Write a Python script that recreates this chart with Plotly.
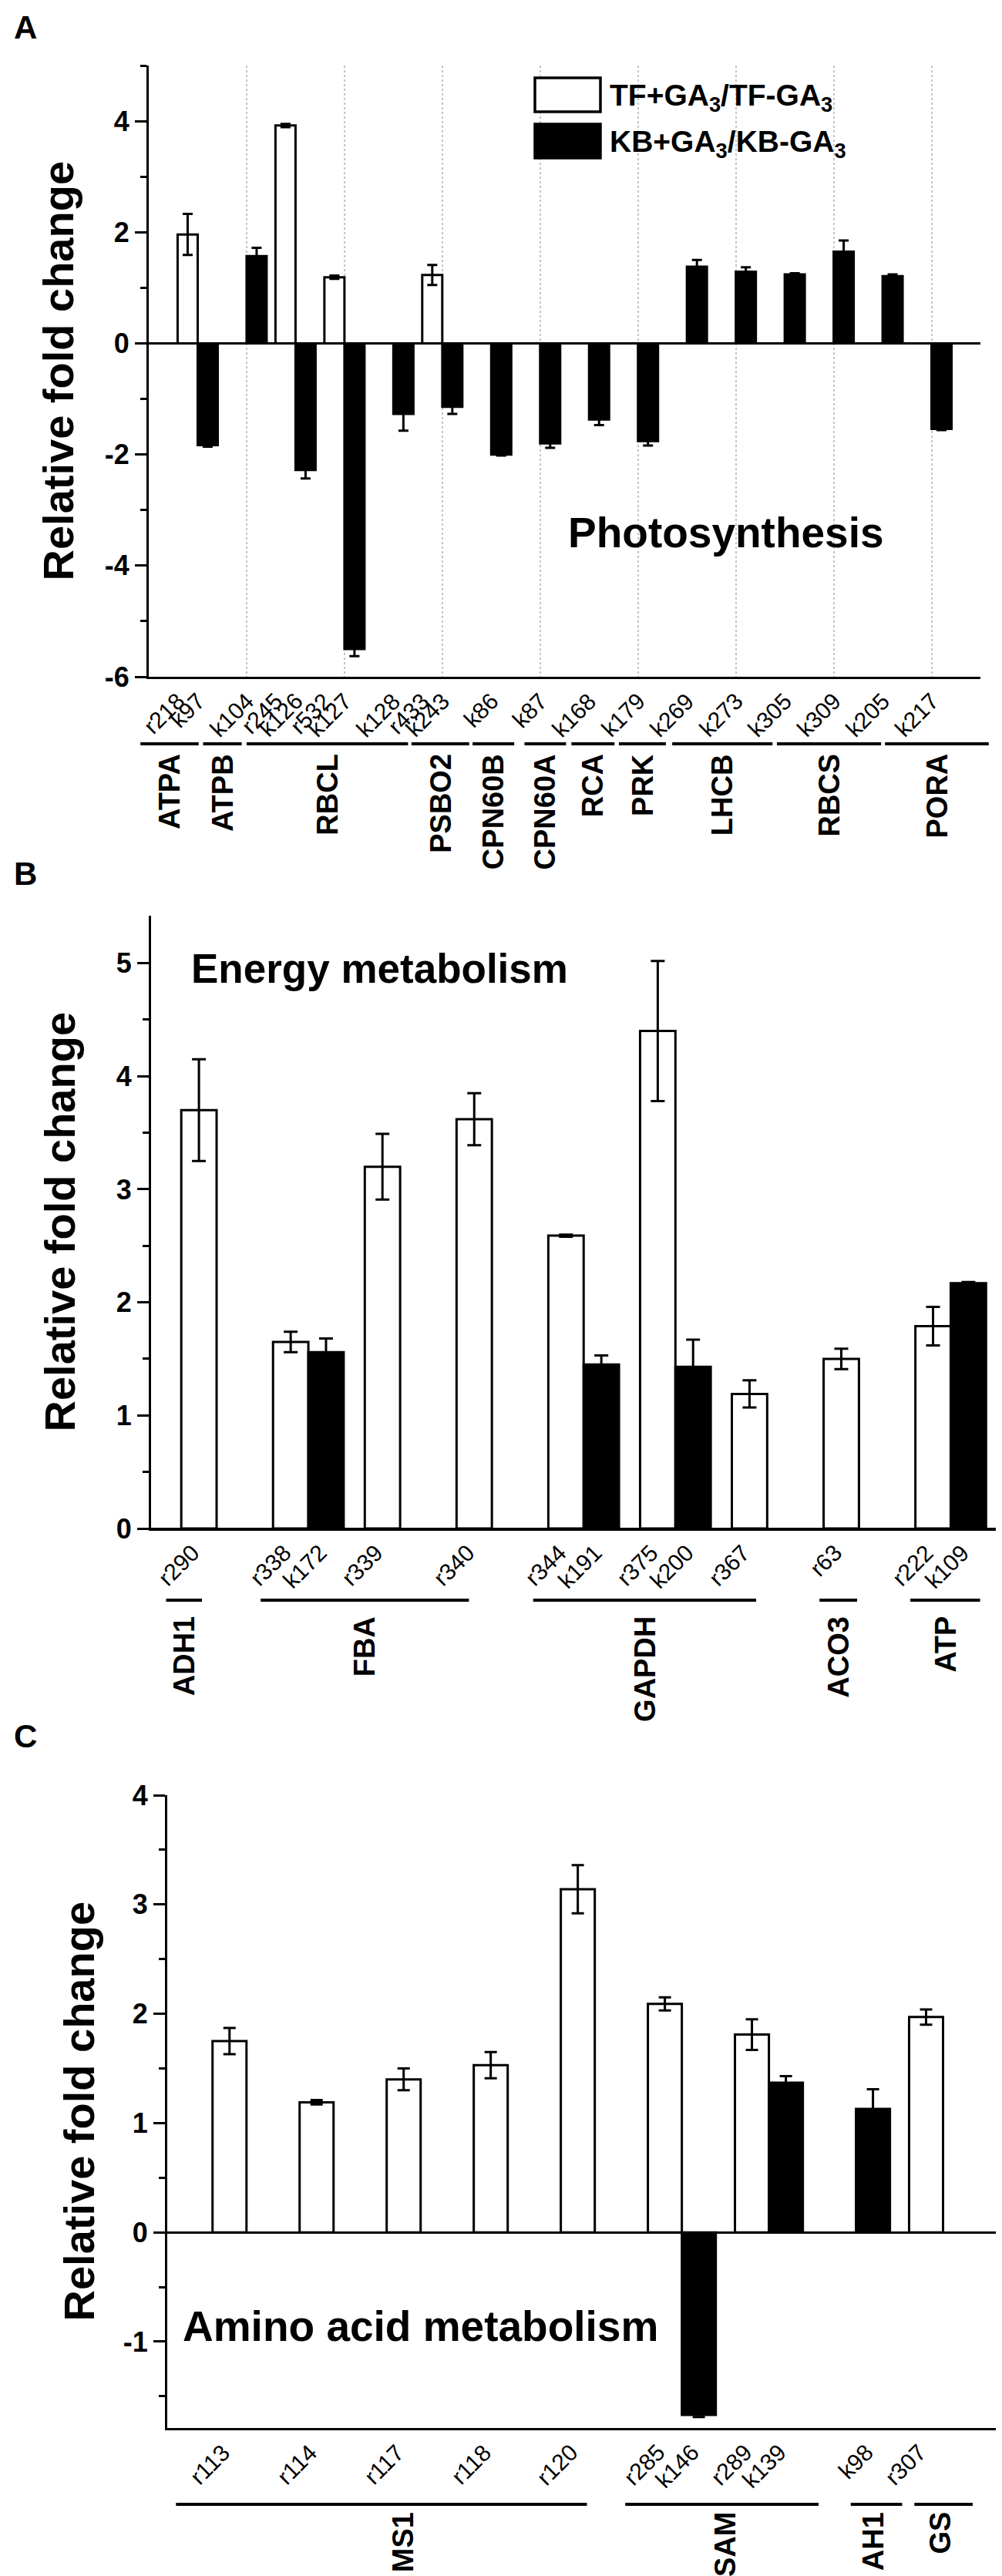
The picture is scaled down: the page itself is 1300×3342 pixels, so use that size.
import plotly.graph_objects as go

W, H = 1300, 3342
FONT = "Arial, Liberation Sans, sans-serif"

# ---------------- data ----------------
# Panel A - photosynthesis (slot = x position of the bar pair)
a_tf_labels = ["r218", "r245", "r532", "r433"]
a_tf_slot = [0, 2, 3, 5]
a_tf_val = [1.96, 3.92, 1.19, 1.23]
a_tf_err = [0.37, 0.03, 0.03, 0.18]

a_kb_labels = ["k97", "k104", "k126", "k127", "k128", "k243", "k86", "k87", "k168",
               "k179", "k269", "k273", "k305", "k309", "k205", "k217"]
a_kb_slot = list(range(16))
a_kb_val = [-1.83, 1.57, -2.28, -5.50, -1.27, -1.14, -2.00, -1.80, -1.37,
            -1.76, 1.38, 1.29, 1.24, 1.65, 1.21, -1.54]
a_kb_err = [0.03, 0.15, 0.15, 0.13, 0.30, 0.13, 0.02, 0.08, 0.10,
            0.08, 0.12, 0.08, 0.02, 0.20, 0.03, 0.02]

a_groups = ["ATPA", "ATPB", "RBCL", "PSBO2", "CPN60B", "CPN60A", "RCA", "PRK",
            "LHCB", "RBCS", "PORA"]

# Panel B - energy metabolism
b_tf_labels = ["r290", "r338", "r339", "r340", "r344", "r375", "r367", "r63", "r222"]
b_tf_slot = [0, 1, 2, 3, 4, 5, 6, 7, 8]
b_tf_val = [3.70, 1.65, 3.20, 3.62, 2.59, 4.40, 1.19, 1.50, 1.79]
b_tf_err = [0.45, 0.09, 0.29, 0.23, 0.01, 0.62, 0.12, 0.09, 0.17]

b_kb_labels = ["k172", "k191", "k200", "k109"]
b_kb_slot = [1, 4, 5, 8]
b_kb_val = [1.56, 1.45, 1.43, 2.17]
b_kb_err = [0.12, 0.08, 0.24, 0.01]

b_groups = ["ADH1", "FBA", "GAPDH", "ACO3", "ATP"]

# Panel C - amino acid metabolism
c_tf_labels = ["r113", "r114", "r117", "r118", "r120", "r285", "r289", "r307"]
c_tf_slot = [0, 1, 2, 3, 4, 5, 6, 8]
c_tf_val = [1.75, 1.19, 1.40, 1.53, 3.14, 2.09, 1.81, 1.97]
c_tf_err = [0.12, 0.02, 0.10, 0.12, 0.22, 0.06, 0.14, 0.07]

c_kb_labels = ["k146", "k139", "k98"]
c_kb_slot = [5, 6, 7]
c_kb_val = [-1.67, 1.37, 1.13]
c_kb_err = [0.02, 0.06, 0.18]

c_groups = ["MS1", "SAM", "AH1", "GS"]

# ---------------- layout geometry (pixels) ----------------
panels = {
    "A": dict(xdom=(185, 1264), ydom=(77, 870), xr=(-1, 16), yr=(-6, 5), w=0.41,
              cap=6.5, ytick=[-6, -4, -2, 0, 2, 4], minor=1,
              line_y=957, name_y=968, title_x=67,
              spans=[(-1.17, 0.02), (0.11, 0.90), (1.0, 4.3), (4.37, 5.55),
                     (5.62, 6.47), (6.68, 7.53), (7.64, 8.52), (8.61, 9.57),
                     (9.7, 11.75), (11.84, 13.97), (14.05, 16.17)]),
    "B": dict(xdom=(188, 1285), ydom=(1180, 1975), xr=(-0.714, 8.5), yr=(0, 5.42), w=0.385,
              cap=9, ytick=[0, 1, 2, 3, 4, 5], minor=0.5,
              line_y=2068, name_y=2087, title_x=69,
              spans=[(-0.55, -0.16), (0.48, 2.75), (3.45, 5.88), (6.57, 6.98), (7.56, 8.32)]),
    "C": dict(xdom=(209, 1298), ydom=(2321, 3142), xr=(-0.91, 8.73), yr=(-1.79, 4), w=0.39,
              cap=8, ytick=[-1, 0, 1, 2, 3, 4], minor=0.5,
              line_y=3241, name_y=3249, title_x=94,
              spans=[(-0.81, 3.91), (4.35, 6.57), (6.94, 7.53), (7.67, 8.34)],
              label_pos=[1.8, 5.5, 7.2, 7.96]),
}
series = {
    "A": (a_tf_labels, a_tf_slot, a_tf_val, a_tf_err, a_kb_labels, a_kb_slot, a_kb_val, a_kb_err, a_groups),
    "B": (b_tf_labels, b_tf_slot, b_tf_val, b_tf_err, b_kb_labels, b_kb_slot, b_kb_val, b_kb_err, b_groups),
    "C": (c_tf_labels, c_tf_slot, c_tf_val, c_tf_err, c_kb_labels, c_kb_slot, c_kb_val, c_kb_err, c_groups),
}


def px(x):
    return x / W


def py(y):
    return 1 - y / H


fig = go.Figure()
shapes, annotations = [], []
layout = dict(width=W, height=H, margin=dict(l=0, r=0, t=0, b=0),
              template="none", paper_bgcolor="white", plot_bgcolor="white",
              showlegend=False, font=dict(family=FONT, color="black"))

for i, key in enumerate(["A", "B", "C"]):
    p = panels[key]
    tf_lab, tf_slot, tf_val, tf_err, kb_lab, kb_slot, kb_val, kb_err, groups = series[key]
    xa = "x" if i == 0 else f"x{i + 1}"
    ya = "y" if i == 0 else f"y{i + 1}"
    w = p["w"]

    for slots, vals, errs, color, off in [(tf_slot, tf_val, tf_err, "white", -w),
                                          (kb_slot, kb_val, kb_err, "black", 0)]:
        fig.add_trace(go.Bar(
            x=slots, y=vals, width=w, offset=off, xaxis=xa, yaxis=ya,
            marker=dict(color=color, line=dict(color="black", width=3)),
            error_y=dict(type="data", array=errs, thickness=3, width=p["cap"], color="black"),
        ))

    # rotated gene labels under each bar
    centres = [s - w / 2 for s in tf_slot] + [s + w / 2 for s in kb_slot]
    for xc, lab in zip(centres, tf_lab + kb_lab):
        annotations.append(dict(xref=xa, yref="paper", x=xc + 0.08, y=py(p["ydom"][1] + 12),
                                text=lab, textangle=-45, showarrow=False,
                                xanchor="right", yanchor="top",
                                font=dict(size=30, family=FONT)))

    xdom = [px(p["xdom"][0]), px(p["xdom"][1])]
    ydom = [py(p["ydom"][1]), py(p["ydom"][0])]
    xaxis = dict(domain=xdom, anchor=ya, range=list(p["xr"]), showline=True, linewidth=3,
                 linecolor="black", showgrid=False, zeroline=False, ticks="",
                 showticklabels=False, automargin=False)
    if key == "A":
        xaxis.update(tickmode="linear", tick0=1, dtick=2, showgrid=True,
                     gridcolor="#c4c4c4", griddash="dot", gridwidth=1.5)
    yaxis = dict(domain=ydom, anchor=xa, range=list(p["yr"]), showline=True, linewidth=3,
                 linecolor="black", showgrid=False, zeroline=True, zerolinewidth=3,
                 zerolinecolor="black", ticks="outside", ticklen=15, tickwidth=3,
                 tickcolor="black", tickmode="array", tickvals=p["ytick"],
                 ticktext=[str(v) for v in p["ytick"]],
                 tickfont=dict(size=36, family=FONT, weight="bold"), automargin=False,
                 minor=dict(tickmode="linear", tick0=0, dtick=p["minor"], ticks="outside",
                            ticklen=8, tickwidth=3, tickcolor="black"))
    layout["xaxis" if i == 0 else f"xaxis{i + 1}"] = xaxis
    layout["yaxis" if i == 0 else f"yaxis{i + 1}"] = yaxis

    # y-axis title
    annotations.append(dict(xref="paper", yref="paper", x=px(p["title_x"]),
                            y=(ydom[0] + ydom[1]) / 2, text="Relative fold change",
                            textangle=-90, showarrow=False, xanchor="center", yanchor="middle",
                            font=dict(size=56, family=FONT, weight="bold")))

    # gene group brackets and names
    def to_paper(s, p=p, xdom=xdom):
        return xdom[0] + (s - p["xr"][0]) / (p["xr"][1] - p["xr"][0]) * (xdom[1] - xdom[0])

    label_pos = p.get("label_pos", [(a + b) / 2 for a, b in p["spans"]])
    for name, (s0, s1), lx in zip(groups, p["spans"], label_pos):
        shapes.append(dict(type="line", xref="paper", yref="paper",
                           x0=to_paper(s0), x1=to_paper(s1),
                           y0=py(p["line_y"]), y1=py(p["line_y"]),
                           line=dict(color="black", width=4)))
        annotations.append(dict(xref="paper", yref="paper", x=to_paper(lx), y=py(p["name_y"]),
                                text=name, textangle=-90, showarrow=False,
                                xanchor="center", yanchor="top",
                                font=dict(size=38, family=FONT, weight="bold")))

# panel letters
for letter, yc in [("A", 27), ("B", 1125), ("C", 2244)]:
    annotations.append(dict(xref="paper", yref="paper", x=px(8), y=py(yc), text=letter,
                            showarrow=False, xanchor="left", yanchor="middle",
                            font=dict(size=42, family=FONT, weight="bold")))

# pathway labels
annotations += [
    dict(xref="x", yref="y", x=10.8, y=-3.4, text="Photosynthesis", showarrow=False,
         xanchor="center", yanchor="middle", font=dict(size=55, family=FONT, weight="bold")),
    dict(xref="x2", yref="y2", x=-0.29, y=4.95, text="Energy metabolism", showarrow=False,
         xanchor="left", yanchor="middle", font=dict(size=53, family=FONT, weight="bold")),
    dict(xref="x3", yref="y3", x=-0.75, y=-0.86, text="Amino acid metabolism", showarrow=False,
         xanchor="left", yanchor="middle", font=dict(size=55, family=FONT, weight="bold")),
]

# legend (panel A)
for (y0, y1), fill, txt in [((93, 137), "white", "TF+GA<sub>3</sub>/TF-GA<sub>3</sub>"),
                            ((153, 197), "black", "KB+GA<sub>3</sub>/KB-GA<sub>3</sub>")]:
    shapes.append(dict(type="rect", xref="paper", yref="paper", x0=px(686), x1=px(771),
                       y0=py(y1), y1=py(y0), fillcolor=fill, line=dict(color="black", width=3.5)))
    annotations.append(dict(xref="paper", yref="paper", x=px(781), y=py((y0 + y1) / 2 + 4),
                            text=txt, showarrow=False, xanchor="left", yanchor="middle",
                            font=dict(size=39, family=FONT, weight="bold")))

layout["shapes"] = shapes
layout["annotations"] = annotations
fig.update_layout(**layout)
fig.write_html("out.html")
